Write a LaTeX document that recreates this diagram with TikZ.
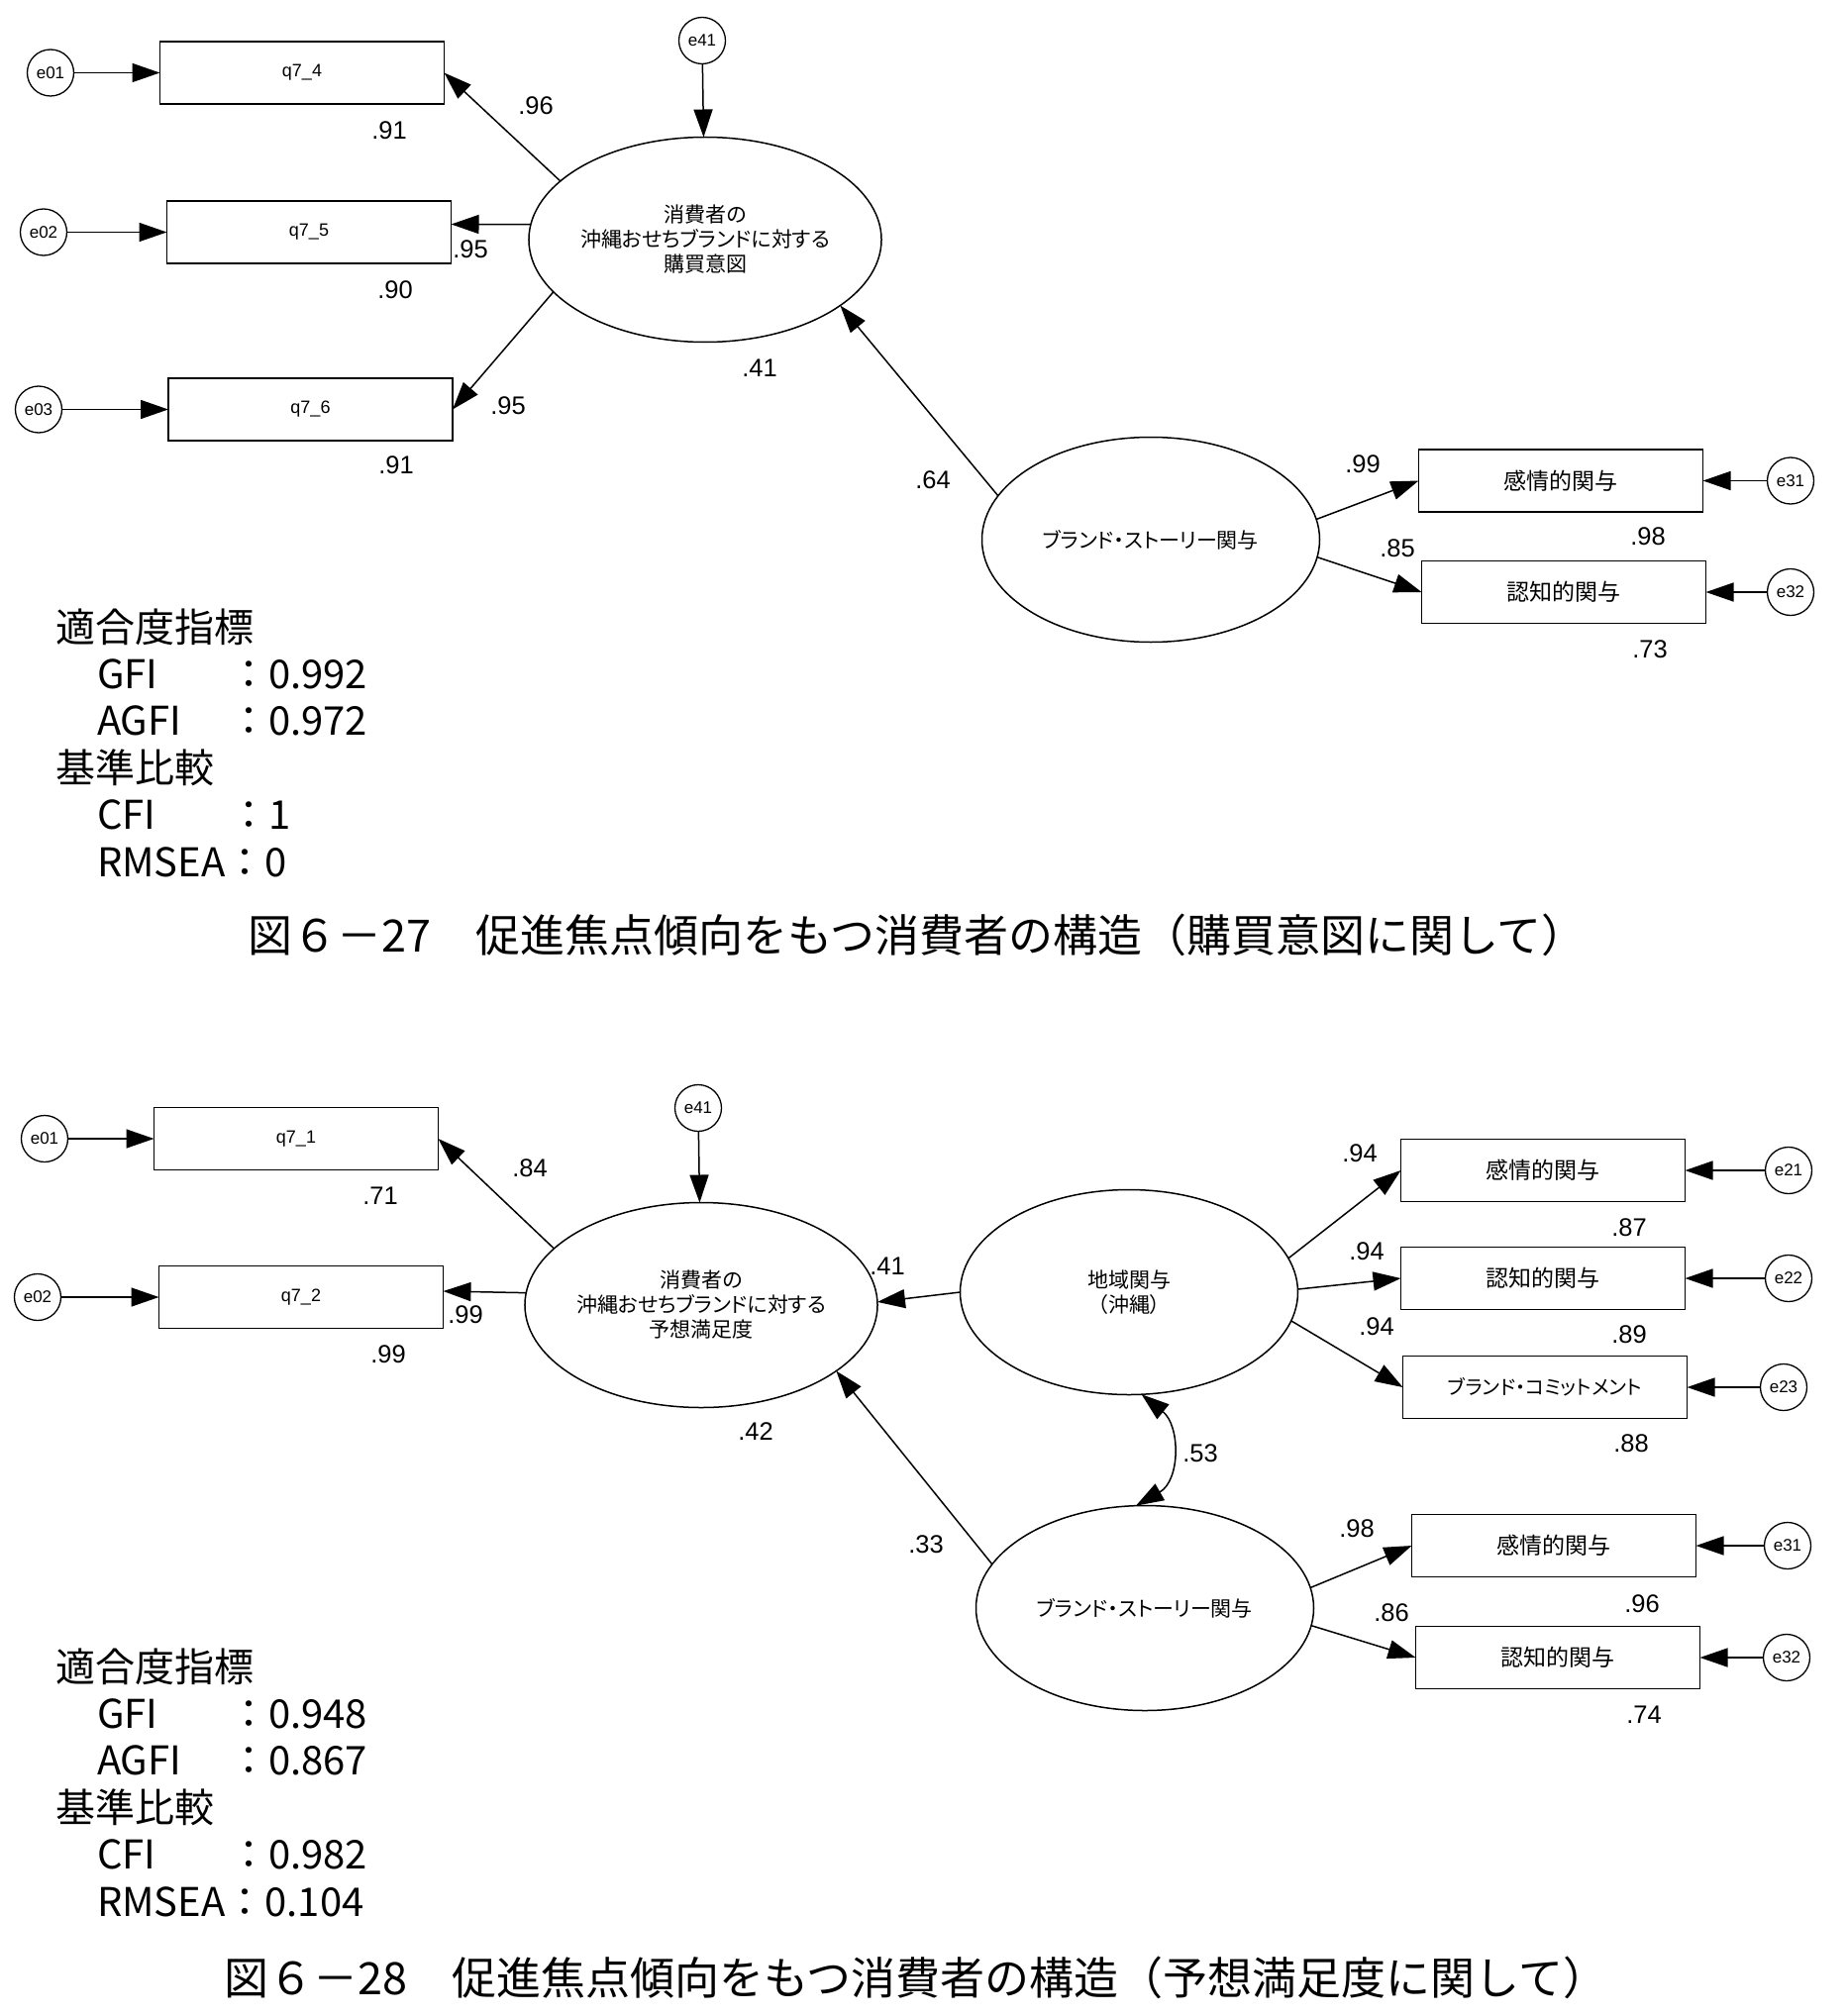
\documentclass[tikz,border=0pt]{standalone}
\usepackage{fontspec}
\setmainfont{Noto Sans CJK JP}
\newfontfamily\jpd[RawFeature=+palt]{Noto Sans CJK JP}
\newfontfamily\latf{Liberation Sans}
\usetikzlibrary{shapes.geometric,arrows.meta,calc}
\newcommand\qf{\fontsize{18}{20}\selectfont\latf}
\begin{document}
\begin{tikzpicture}[x=1pt,y=-1pt,
  every node/.style={inner sep=0pt, outer sep=0pt},
  obs/.style={draw, line width=1.5pt, minimum width=287pt, minimum height=63pt, font=\fontsize{23}{26}\selectfont\jpd},
  err/.style={draw, circle, line width=1.3pt, minimum size=47pt, font=\fontsize{17}{20}\selectfont\latf},
  lat/.style={draw, ellipse, line width=1.5pt, minimum width=341pt, minimum height=207pt, align=center, font=\fontsize{21}{25}\selectfont\jpd},
  coef/.style={font=\fontsize{25.5}{28}\selectfont\latf},
  arr/.style={line width=1.5pt, -{Triangle[length=28pt,width=19pt]}},
  dbl/.style={line width=1.5pt, {Triangle[length=28pt,width=19pt]}-{Triangle[length=28pt,width=19pt]}},
  fit/.style={anchor=base west, font=\fontsize{40}{44}\selectfont},
  captxt/.style={anchor=base, font=\fontsize{45}{50}\selectfont},
]
\fill[white] (0,0) rectangle (1864,2036);
\useasboundingbox (0,0) rectangle (1864,2036);

% ---------------- Figure 6-27 ----------------
\node[err] (e01a) at (51,73.5) {e01};
\node[obs, font=\qf] (q74) at (305,73.5) {q7\_4};
\node[err] (e02a) at (44,234.5) {e02};
\node[obs, font=\qf] (q75) at (312,234.5) {q7\_5};
\node[err] (e03a) at (39,413.5) {e03};
\node[obs, font=\qf] (q76) at (313.5,413.5) {q7\_6};
\node[err] (e41a) at (709,41) {e41};
\node[lat] (ell1) at (712,242) {消費者の\\沖縄おせちブランドに対する\\購買意図};
\node[lat] (ell2) at (1162,545) {ブランド・ストーリー関与};
\node[obs] (ka) at (1576,485.5) {感情的関与};
\node[obs] (kb) at (1579,598) {認知的関与};
\node[err] (e31a) at (1808,485.5) {e31};
\node[err] (e32a) at (1808,598) {e32};

\draw[arr] (e01a.east) -- (q74.west);
\draw[arr] (e02a.east) -- (q75.west);
\draw[arr] (e03a.east) -- (q76.west);
\draw[arr] (e41a) -- (ell1);
\draw[arr] (ell1.158) -- (q74.east);
\draw[arr] (ell1.175.6) -- ($(q75.east)+(0,-8)$);
\draw[arr] (ell1.199.6) -- (q76.east);
\draw[arr] (ell2.164.6) -- (ell1.334.6);
\draw[arr] (ell2.7.1) -- (ka.west);
\draw[arr] (ell2.-6.3) -- (kb.west);
\draw[arr] (e31a.west) -- (ka.east);
\draw[arr] (e32a.west) -- (kb.east);

\node[coef] (c1) at (541,107) {.96};
\node[coef] (c2) at (393,132) {.91};
\node[coef] (c3) at (475,252) {.95};
\node[coef] (c4) at (399,293) {.90};
\node[coef] (c5) at (513,410) {.95};
\node[coef] (c6) at (400,470) {.91};
\node[coef] (c7) at (767,372) {.41};
\node[coef] (c8) at (942,485) {.64};
\node[coef] (c9) at (1376,469) {.99};
\node[coef] (c10) at (1664,542) {.98};
\node[coef] (c11) at (1411,554) {.85};
\node[coef] (c12) at (1666,656) {.73};

\node[fit] (f1) at (56,648) {適合度指標};
\node[fit] (f2) at (98,695.4) {GFI};
\node[fit] (f2v) at (231,695.4) {：0.992};
\node[fit] (f3) at (98,742.8) {AGFI};
\node[fit] (f3v) at (231,742.8) {：0.972};
\node[fit] (f4) at (56,790.2) {基準比較};
\node[fit] (f5) at (98,837.6) {CFI};
\node[fit] (f5v) at (231,837.6) {：1};
\node[fit] (f6) at (98,885) {RMSEA：0};
\node[captxt] (cap1) at (926,961) {図６－27　促進焦点傾向をもつ消費者の構造（購買意図に関して）};

% ---------------- Figure 6-28 ----------------
\node[err] (e01b) at (45,1150) {e01};
\node[obs, font=\qf] (q71) at (299,1150) {q7\_1};
\node[err] (e02b) at (38,1310) {e02};
\node[obs, font=\qf] (q72) at (304,1310) {q7\_2};
\node[err] (e41b) at (705,1119) {e41};
\node[lat] (ell3) at (708,1318) {消費者の\\沖縄おせちブランドに対する\\予想満足度};
\node[lat] (ell4) at (1140,1305) {地域関与\\（沖縄）};
\node[lat] (ell5) at (1156,1624) {ブランド・ストーリー関与};
\node[obs] (ra) at (1558,1182) {感情的関与};
\node[obs] (rb) at (1558,1291) {認知的関与};
\node[obs, font=\fontsize{20}{24}\selectfont\jpd] (rc) at (1560,1401) {ブランド・コミットメント};
\node[obs] (sa) at (1569,1561) {感情的関与};
\node[obs] (sb) at (1573,1674) {認知的関与};
\node[err] (e21b) at (1806,1182) {e21};
\node[err] (e22b) at (1806,1291) {e22};
\node[err] (e23b) at (1801,1401) {e23};
\node[err] (e31b) at (1805,1561) {e31};
\node[err] (e32b) at (1804,1674) {e32};

\draw[arr] (e01b.east) -- (q71.west);
\draw[arr] (e02b.east) -- (q72.west);
\draw[arr] (e41b) -- (ell3);
\draw[arr] (ell3.159.1) -- (q71.east);
\draw[arr] (ell3.176.3) -- ($(q72.east)+(0,-6)$);
\draw[arr] (ell4.180) -- (ell3.1.7);
\draw[arr] (ell5.164.2) -- (ell3.334.4);
\draw[arr] (ell4.12.1) -- (ra.west);
\draw[arr] (ell4.1.7) -- (rb.west);
\draw[arr] (ell4.-10.2) -- (rc.west);
\draw[arr] (ell5.7.5) -- (sa.west);
\draw[arr] (ell5.-6) -- (sb.west);
\draw[arr] (e21b.west) -- (ra.east);
\draw[arr] (e22b.west) -- (rb.east);
\draw[arr] (e23b.west) -- (rc.east);
\draw[arr] (e31b.west) -- (sa.east);
\draw[arr] (e32b.west) -- (sb.east);
\draw[dbl] (ell4.277) .. controls (1192,1440) and (1192,1495) .. (ell5.95);

\node[coef] (d1) at (535,1180) {.84};
\node[coef] (d2) at (384,1208) {.71};
\node[coef] (d3) at (896,1279) {.41};
\node[coef] (d4) at (470,1328) {.99};
\node[coef] (d5) at (392,1368) {.99};
\node[coef] (d6) at (763,1446) {.42};
\node[coef] (d7) at (935,1560) {.33};
\node[coef] (d8) at (1373,1165) {.94};
\node[coef] (d9) at (1645,1240) {.87};
\node[coef] (d10) at (1380,1264) {.94};
\node[coef] (d11) at (1645,1348) {.89};
\node[coef] (d12) at (1390,1340) {.94};
\node[coef] (d13) at (1647,1458) {.88};
\node[coef] (d14) at (1212,1468) {.53};
\node[coef] (d15) at (1370,1544) {.98};
\node[coef] (d16) at (1658,1620) {.96};
\node[coef] (d17) at (1405,1629) {.86};
\node[coef] (d18) at (1660,1732) {.74};

\node[fit] (g1) at (56,1698) {適合度指標};
\node[fit] (g2) at (98,1745.4) {GFI};
\node[fit] (g2v) at (231,1745.4) {：0.948};
\node[fit] (g3) at (98,1792.8) {AGFI};
\node[fit] (g3v) at (231,1792.8) {：0.867};
\node[fit] (g4) at (56,1840.2) {基準比較};
\node[fit] (g5) at (98,1887.6) {CFI};
\node[fit] (g5v) at (231,1887.6) {：0.982};
\node[fit] (g6) at (98,1935) {RMSEA：0.104};
\node[captxt] (cap2) at (925,2014) {図６－28　促進焦点傾向をもつ消費者の構造（予想満足度に関して）};
\end{tikzpicture}
\end{document}
